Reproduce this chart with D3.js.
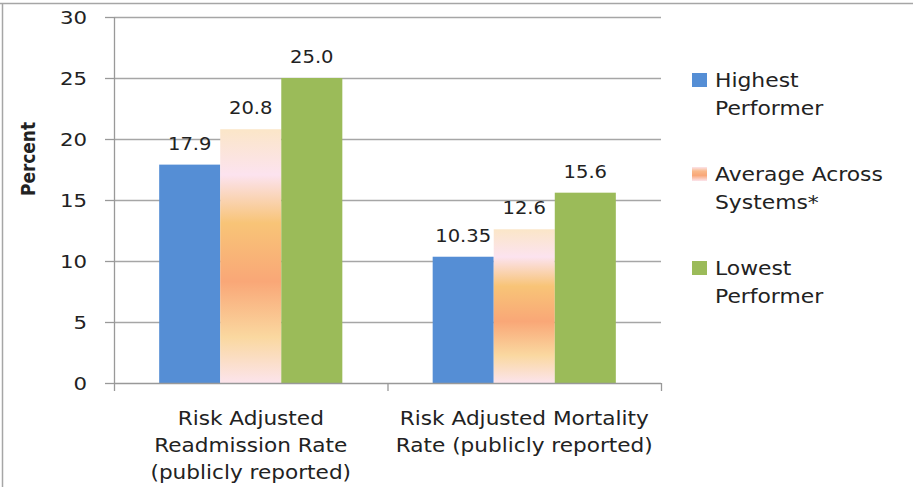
<!DOCTYPE html>
<html>
<head>
<meta charset="utf-8">
<script src="https://cdn.jsdelivr.net/npm/d3@7"></script>
<style>
  html, body { margin: 0; padding: 0; background: #fff; }
  svg { display: block; }
  text { font-family: "DejaVu Sans", sans-serif; fill: #222; }
</style>
</head>
<body>
<svg id="chart" width="913" height="487"></svg>
<script>
const categories = ["Readmission", "Mortality"];
const categoryLines = [
  ["Risk Adjusted", "Readmission Rate", "(publicly reported)"],
  ["Risk Adjusted Mortality", "Rate (publicly reported)"]
];
const series = ["Highest Performer", "Average Across Systems*", "Lowest Performer"];
const legendLines = [["Highest", "Performer"], ["Average Across", "Systems*"], ["Lowest", "Performer"]];
const highestValues = [17.9, 10.35];
const averageValues = [20.8, 12.6];
const lowestValues = [25.0, 15.6];
const highestLabels = ["17.9", "10.35"];
const averageLabels = ["20.8", "12.6"];
const lowestLabels = ["25.0", "15.6"];
const yTicks = [0, 5, 10, 15, 20, 25, 30];
const yTitle = "Percent";

(function () {
const seriesValues = [highestValues, averageValues, lowestValues];
const seriesLabels = [highestLabels, averageLabels, lowestLabels];
const seriesFill = ["#558ED5", "url(#avgGrad)", "#9BBB59"];

const svg = d3.select("#chart");
const SX = 1.15;

// gradient
const defs = svg.append("defs");
const grad = defs.append("linearGradient").attr("id", "avgGrad")
  .attr("x1", 0).attr("y1", 0).attr("x2", 0).attr("y2", 1);
[[0, "#FBE6C8"], [0.18, "#FCE3EF"], [0.37, "#F8C477"], [0.6, "#F9A777"], [0.82, "#FAD8A0"], [1, "#FCE4EC"]]
  .forEach(([o, c]) => grad.append("stop").attr("offset", o).attr("stop-color", c));
const lgrad = defs.append("linearGradient").attr("id", "legGrad")
  .attr("x1", 0).attr("y1", 0).attr("x2", 0).attr("y2", 1);
[[0, "#FCE4EC"], [0.3, "#F9B98A"], [0.6, "#F9A777"], [1, "#FCE4EC"]]
  .forEach(([o, c]) => lgrad.append("stop").attr("offset", o).attr("stop-color", c));

function addText(g, x, y, str, size, anchor, weight) {
  return g.append("text")
    .attr("transform", `translate(${x},${y}) scale(${SX},1)`)
    .attr("text-anchor", anchor || "start")
    .style("font-size", size + "px")
    .style("font-weight", weight || "normal")
    .text(str);
}

// frame
svg.append("line").attr("x1", 0).attr("x2", 913).attr("y1", 3.5).attr("y2", 3.5)
  .attr("stroke", "#a6a6a6").attr("stroke-width", 1.5);
svg.append("line").attr("x1", 2.5).attr("x2", 2.5).attr("y1", 3).attr("y2", 487)
  .attr("stroke", "#a6a6a6").attr("stroke-width", 1.5);

const pLeft = 114, pRight = 661, pTop = 17, pBottom = 383;
const y = d3.scaleLinear().domain([0, 30]).range([pBottom, pTop]);
const x0 = d3.scaleBand().domain(categories).range([pLeft, pRight]).paddingInner(0).paddingOuter(0);
const x1 = d3.scaleBand().domain(series).range([0, x0.bandwidth()]).paddingInner(0).paddingOuter(0.74);

// gridlines
svg.append("g").selectAll("line").data(yTicks.filter(t => t > 0)).join("line")
  .attr("x1", pLeft).attr("x2", pRight)
  .attr("y1", d => y(d) + 0.5).attr("y2", d => y(d) + 0.5)
  .attr("stroke", "#a6a6a6").attr("stroke-width", 1.3);

// bars
const bars = svg.append("g");
series.forEach((s, si) => {
  categories.forEach((c, ci) => {
    const v = seriesValues[si][ci];
    bars.append("rect")
      .attr("x", x0(c) + x1(s))
      .attr("y", y(v))
      .attr("width", x1.bandwidth())
      .attr("height", y(0) - y(v))
      .attr("fill", seriesFill[si]);
    addText(bars, x0(c) + x1(s) + x1.bandwidth() / 2, y(v) - 15, seriesLabels[si][ci], 17, "middle");
  });
});

// y axis
const yAxis = svg.append("g");
yAxis.append("line").attr("x1", pLeft + 0.5).attr("x2", pLeft + 0.5).attr("y1", pTop).attr("y2", pBottom)
  .attr("stroke", "#999").attr("stroke-width", 1.3);
yTicks.forEach(t => {
  yAxis.append("line").attr("x1", pLeft - 9).attr("x2", pLeft)
    .attr("y1", y(t) + 0.5).attr("y2", y(t) + 0.5).attr("stroke", "#999").attr("stroke-width", 1.3);
  addText(yAxis, 87, y(t) + 7, String(t), 18.5, "end");
});

// x axis
const xAxis = svg.append("g");
xAxis.append("line").attr("x1", pLeft).attr("x2", pRight).attr("y1", pBottom + 0.5).attr("y2", pBottom + 0.5)
  .attr("stroke", "#999").attr("stroke-width", 1.3);
const xTickPos = categories.map(c => x0(c)).concat([x0(categories[categories.length - 1]) + x0.bandwidth()]);
xTickPos.forEach(p => {
  xAxis.append("line").attr("x1", p + 0.5).attr("x2", p + 0.5).attr("y1", pBottom).attr("y2", pBottom + 8)
    .attr("stroke", "#999").attr("stroke-width", 1.3);
});
categories.forEach((c, ci) => {
  categoryLines[ci].forEach((ln, li) => {
    addText(xAxis, x0(c) + x0.bandwidth() / 2, 425 + li * 27, ln, 18.8, "middle");
  });
});

// y title
svg.append("text")
  .attr("transform", `translate(35,159) scale(1.15,1) rotate(-90)`)
  .attr("text-anchor", "middle")
  .style("font-size", "17px").style("font-weight", "bold")
  .text(yTitle);

// legend
const legend = svg.append("g");
const legFill = ["#558ED5", "url(#legGrad)", "#9BBB59"];
series.forEach((s, si) => {
  const by = 87 + si * 94;
  legend.append("rect").attr("x", 692).attr("y", by - 14).attr("width", 15).attr("height", 14)
    .attr("fill", legFill[si]);
  legendLines[si].forEach((ln, li) => {
    addText(legend, 715, by + li * 28, ln, 19, "start");
  });
});
})();
</script>
</body>
</html>
